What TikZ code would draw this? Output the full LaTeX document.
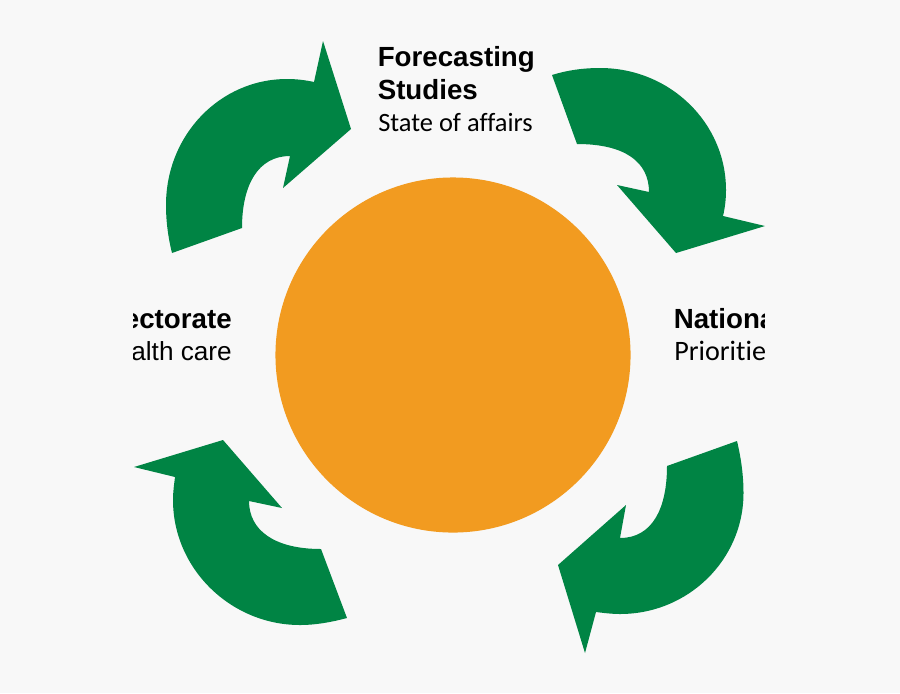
\documentclass[tikz,border=0pt]{standalone}
\usepackage{fontspec}
\setmainfont{Liberation Sans}
\newfontfamily\humanfont[Ligatures=NoCommon]{Carlito}
\definecolor{cyclegreen}{HTML}{008444}
\definecolor{huborange}{HTML}{F29B20}
\definecolor{pagegrey}{HTML}{F8F8F8}
\tikzset{
  cyclearrow/.style={fill=cyclegreen},
  heading/.style={inner sep=0pt, font=\fontsize{19.7}{23}\selectfont\bfseries},
  plainline/.style={inner sep=0pt, font=\fontsize{18.6}{22}\selectfont},
  humanline/.style={inner sep=0pt, font=\fontsize{18.8}{23}\selectfont\humanfont},
  widehumanline/.style={inner sep=0pt, font=\fontsize{20}{24}\selectfont\humanfont}
}

\begin{document}
\begin{tikzpicture}[x=0.025cm, y=-0.025cm]
  % Background
  \fill[pagegrey] (0,0) rectangle (900,693);

  % Centre disc
  \node[circle, fill=huborange, inner sep=0pt, minimum size=8.875cm] (hub) at (453,355) {};

  % Top left arrow
  \fill[cyclearrow] (172,253) .. controls (168,237) and (166,221) .. (166,205)
    .. controls (166,135) and (220,79) .. (287,79)
    .. controls (296,79) and (305,80) .. (314,82)
    -- (323,41) -- (351,129) -- (283,188) -- (290,156)
    .. controls (258,156) and (242,185) .. (242,228) -- cycle;

  % Right arrow
  \fill[cyclearrow] (552,75) .. controls (568,70) and (584,68) .. (600,68)
    .. controls (670,68) and (726,123) .. (726,190)
    .. controls (726,199) and (725,208) .. (723,216)
    -- (765,226) -- (676,253) -- (617,185) -- (649,192)
    .. controls (649,162) and (625,144) .. (577,144) -- cycle;

  % Bottom right arrow
  \fill[cyclearrow] (737,441) .. controls (741,458) and (743.5,475) .. (743.5,493)
    .. controls (743.5,560) and (688,614) .. (620,614)
    .. controls (612,614) and (604,613) .. (596,612)
    -- (585,653) -- (558,565) -- (626,505) -- (620,538)
    .. controls (652,538) and (667,509) .. (667,466) -- cycle;

  % Bottom left arrow
  \fill[cyclearrow] (347,618) .. controls (332,622) and (316,625) .. (300,625)
    .. controls (231,625) and (173,569) .. (173,500)
    .. controls (173,492) and (174,485) .. (175,477)
    -- (134,467) -- (223,440) -- (282,508) -- (249,501)
    .. controls (249,530) and (274,549) .. (321,549) -- cycle;

  % Labels
  \node[heading, anchor=base west] (forecast) at (377.5,66) {Forecasting};
  \node[heading, anchor=base west] (studies) at (377.5,99) {Studies};
  \node[humanline, anchor=base west] (state) at (378,131) {State of affairs};

  \begin{scope}
    \clip (133,0) rectangle (764.5,693);
    \node[heading, anchor=base west] (national) at (673.5,328) {National};
    \node[widehumanline, anchor=base west] (priorities) at (674,360) {Priorities};
    \node[heading, anchor=base east] (directorate) at (232,328) {Directorate};
    \node[plainline, anchor=base east] (health) at (232,360) {Health care};
  \end{scope}
\end{tikzpicture}
\end{document}
